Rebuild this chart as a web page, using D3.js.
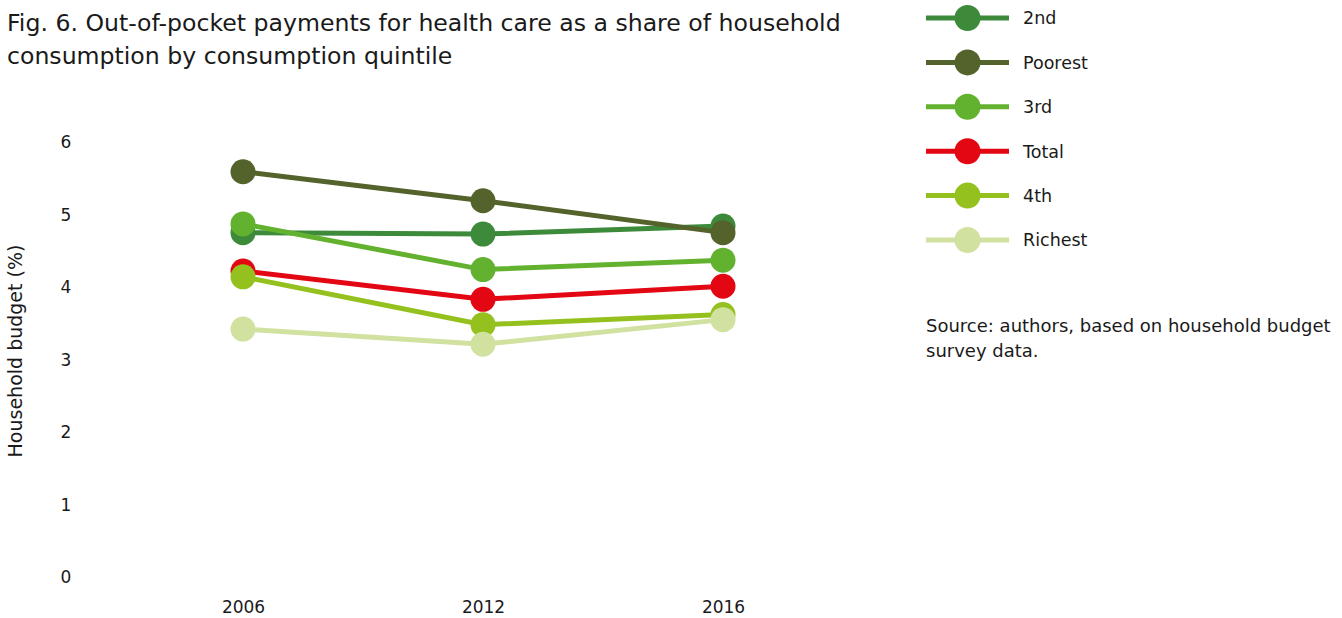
<!DOCTYPE html>
<html>
<head>
<meta charset="utf-8">
<script src="https://cdn.jsdelivr.net/npm/d3@7"></script>
<style>
  html, body { margin: 0; padding: 0; background: #fff; }
  svg { display: block; font-family: "DejaVu Sans", "Noto Sans", sans-serif; }
</style>
</head>
<body>
<svg id="chart" width="1342" height="618"></svg>
<script>
const years = ["2006", "2012", "2016"];
const seriesNames = ["2nd", "Poorest", "3rd", "Total", "4th", "Richest"];
const seriesColors = ["#3d8a3b", "#53632b", "#63b22f", "#e30613", "#95c11f", "#d0e1a0"];
const val2nd = [4.75, 4.73, 4.84];
const valPoorest = [5.59, 5.19, 4.75];
const val3rd = [4.87, 4.24, 4.37];
const valTotal = [4.22, 3.83, 4.01];
const val4th = [4.14, 3.48, 3.62];
const valRichest = [3.42, 3.21, 3.55];
const yTicks = [0, 1, 2, 3, 4, 5, 6];
const titleLines = ["Fig. 6. Out-of-pocket payments for health care as a share of household", "consumption by consumption quintile"];
const sourceLines = ["Source: authors, based on household budget", "survey data."];
const yAxisTitle = "Household budget (%)";

const seriesValues = [val2nd, valPoorest, val3rd, valTotal, val4th, valRichest];
const series = seriesNames.map((n, i) => ({ name: n, color: seriesColors[i], values: seriesValues[i] }));

const svg = d3.select("#chart");
const x = d3.scalePoint().domain(years).range([243, 723]).padding(0);
const y = d3.scaleLinear().domain([0, 6]).range([577, 142]);
const FONT = "DejaVu Sans, Noto Sans, sans-serif";

// Title
svg.append("g").selectAll("text").data(titleLines).join("text")
  .attr("x", 7).attr("y", (d, i) => 31 + i * 33)
  .attr("font-size", 23.6).attr("fill", "#1a1a1a")
  .text(d => d);

// Y axis
const yAxis = d3.axisLeft(y).tickValues(yTicks).tickSize(0).tickPadding(0).tickFormat(d3.format("d"));
const yg = svg.append("g").attr("transform", "translate(72,0)").call(yAxis);
yg.select(".domain").remove();
yg.selectAll("text").attr("font-size", 17).attr("fill", "#1a1a1a")
  .attr("font-family", FONT)
  .attr("text-anchor", "middle").attr("x", -6).attr("dy", "0.35em");

svg.append("text")
  .attr("transform", "translate(22,351) rotate(-90)")
  .attr("text-anchor", "middle").attr("font-size", 19).attr("fill", "#1a1a1a")
  .text(yAxisTitle);

// X axis
const xAxis = d3.axisBottom(x).tickSize(0).tickPadding(0);
const xg = svg.append("g").attr("transform", "translate(0,613)").call(xAxis);
xg.select(".domain").remove();
xg.selectAll("text").attr("font-size", 17).attr("fill", "#1a1a1a")
  .attr("font-family", FONT).attr("dy", "0");

// Lines and dots
const line = d3.line().x((d, i) => x(years[i])).y(d => y(d));
const sg = svg.append("g").selectAll("g").data(series).join("g");
sg.append("path").attr("d", d => line(d.values))
  .attr("fill", "none").attr("stroke", d => d.color).attr("stroke-width", 5);
sg.selectAll("circle").data(d => d.values.map((v, i) => ({ v, i, color: d.color }))).join("circle")
  .attr("cx", d => x(years[d.i])).attr("cy", d => y(d.v)).attr("r", 12.5)
  .attr("fill", d => d.color);

// Legend
const lg = svg.append("g").selectAll("g").data(series).join("g")
  .attr("transform", (d, i) => `translate(0,${18 + i * 44.4})`);
lg.append("line").attr("x1", 926).attr("x2", 1009).attr("y1", 0).attr("y2", 0)
  .attr("stroke", d => d.color).attr("stroke-width", 5);
lg.append("circle").attr("cx", 967.5).attr("cy", 0).attr("r", 13).attr("fill", d => d.color);
lg.append("text").attr("x", 1023).attr("y", 0).attr("dy", "0.36em")
  .attr("font-size", 17.5).attr("fill", "#1a1a1a").text(d => d.name);

// Source
svg.append("g").selectAll("text").data(sourceLines).join("text")
  .attr("x", 926).attr("y", (d, i) => 332 + i * 24.5)
  .attr("font-size", 18).attr("fill", "#1a1a1a").text(d => d);
</script>
</body>
</html>
